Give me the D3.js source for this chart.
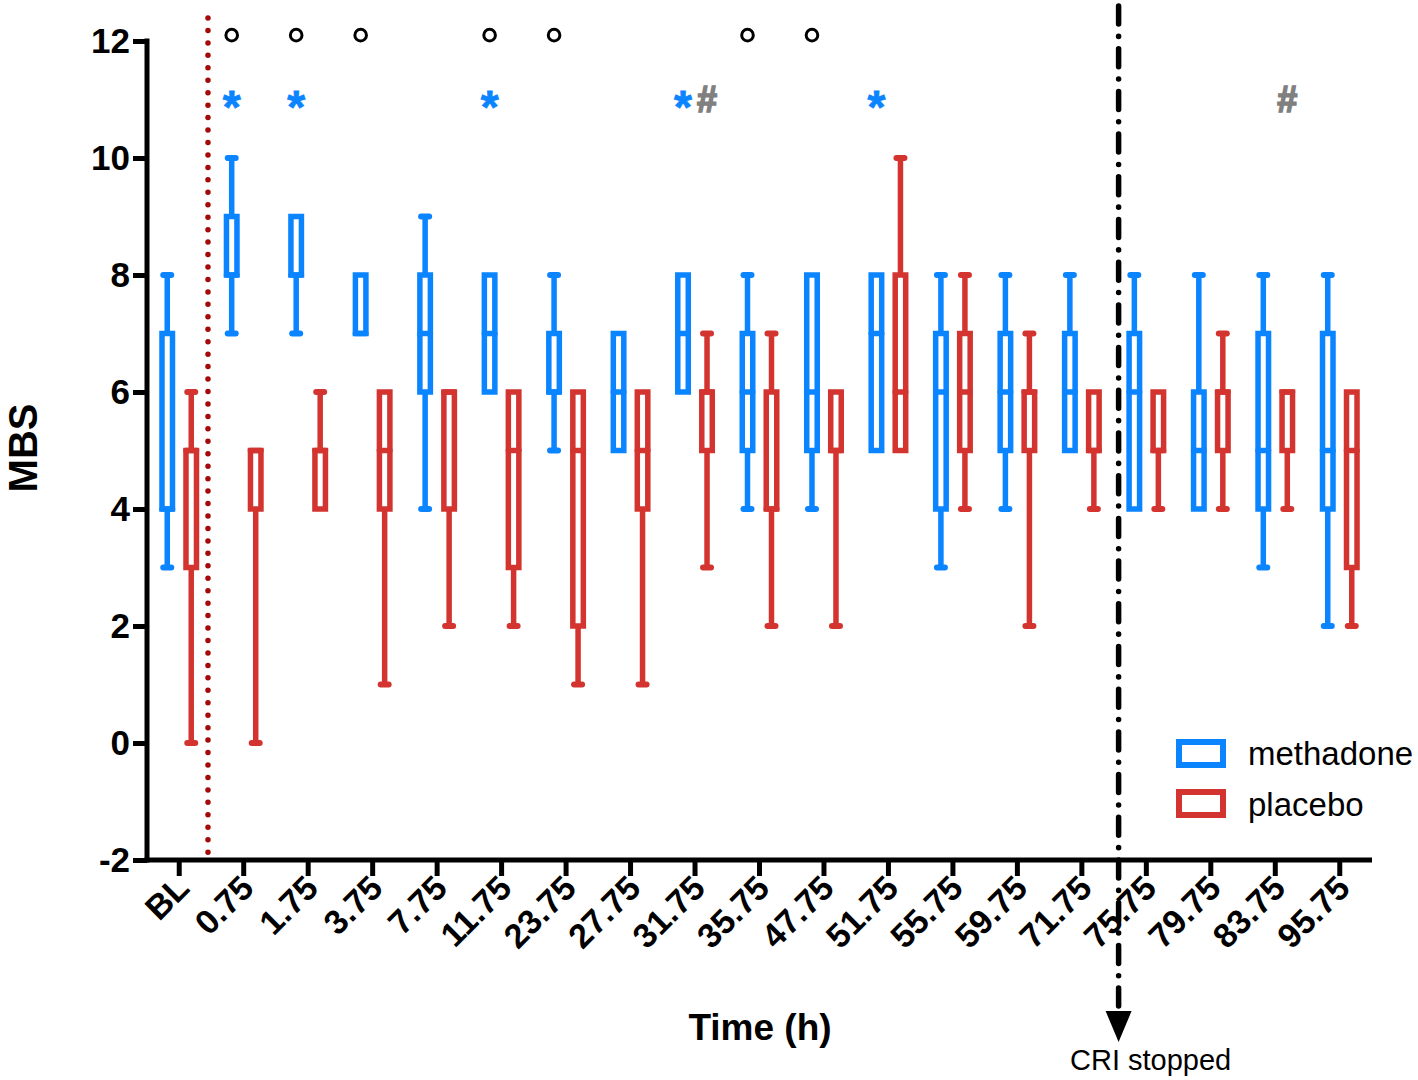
<!DOCTYPE html>
<html>
<head>
<meta charset="utf-8">
<script src="https://cdn.jsdelivr.net/npm/d3@7/dist/d3.min.js"></script>
<style>
  html, body { margin: 0; padding: 0; background: #fff; }
  svg { display: block; font-family: "Liberation Sans", Arial, Helvetica, sans-serif; }
</style>
</head>
<body>
<svg id="chart" width="1418" height="1080"></svg>
<script>
// ---------------- data ----------------
const categories = ["BL","0.75","1.75","3.75","7.75","11.75","23.75","27.75","31.75","35.75","47.75","51.75","55.75","59.75","71.75","75.75","79.75","83.75","95.75"];
const seriesNames = ["methadone","placebo"];
const yTicks = [-2,0,2,4,6,8,10,12];

// [min, q1, median, q3, max]
const methadone = [
  [3,4,4,7,8],[7,8,8,9,10],[7,8,8,9,9],[7,7,7,8,8],[4,6,7,8,9],
  [6,6,7,8,8],[5,6,6,7,8],[5,5,6,7,7],[6,6,7,8,8],[4,5,6,7,8],
  [4,5,6,8,8],[5,5,7,8,8],[3,4,6,7,8],[4,5,6,7,8],[5,5,6,7,8],
  [4,4,6,7,8],[4,4,5,6,8],[3,4,5,7,8],[2,4,5,7,8]
];
const placebo = [
  [0,3,5,5,6],[0,4,5,5,5],[4,4,5,5,6],[1,4,5,6,6],[2,4,6,6,6],
  [2,3,5,6,6],[1,2,5,6,6],[1,4,5,6,6],[3,5,6,6,7],[2,4,4,6,7],
  [2,5,5,6,6],[5,5,6,8,10],[4,5,6,7,8],[2,5,6,6,7],[4,5,5,6,6],
  [4,5,5,6,6],[4,5,6,6,7],[4,5,6,6,6],[2,3,5,6,6]
];
// significance marks
const circleMarks = ["0.75","1.75","3.75","11.75","23.75","35.75","47.75"];   // above methadone
const starMarks = ["0.75","1.75","11.75","31.75","51.75"];                      // above methadone
const hashMarks = ["31.75","83.75"];                                            // above placebo
const circleLevel = 12.1, starLevel = 11.0, hashLevel = 11.0;

// ---------------- layout ----------------
const colors = { methadone: "#0A84FF", placebo: "#D3342F" };
const svg = d3.select("#chart");
const plotLeft = 147, plotRight = 1372, plotTop = 41, plotBottom = 860;

const x = d3.scaleBand().domain(categories).range([plotLeft, plotRight]).padding(0);
const xs = d3.scaleBand().domain(seriesNames).range([-24, 24]).padding(0);
const y = d3.scaleLinear().domain([-2, 12]).range([plotBottom, plotTop]);

const boxW = 10.5, sw = 5.5, capHalf = 4;
const cx = (cat, s) => x(cat) + x.bandwidth() / 2 + xs(s) + xs.bandwidth() / 2;

// ---------------- reference lines ----------------
const xDot = x("0.75") - 3.5;
svg.append("line")
  .attr("x1", xDot).attr("x2", xDot).attr("y1", 18).attr("y2", plotBottom)
  .attr("stroke", "#A50A0A").attr("stroke-width", 5.5)
  .attr("stroke-linecap", "round").attr("stroke-dasharray", "0 12.45");

// ---------------- boxes ----------------
function drawSeries(name, data) {
  const g = svg.append("g").attr("class", name);
  const c = colors[name];
  data.forEach((d, i) => {
    const cat = categories[i];
    const xc = cx(cat, name);
    const [mn, q1, md, q3, mx] = d;
    if (mx > q3) {
      g.append("line").attr("x1", xc).attr("x2", xc).attr("y1", y(q3)).attr("y2", y(mx))
        .attr("stroke", c).attr("stroke-width", sw);
      g.append("line").attr("x1", xc - capHalf).attr("x2", xc + capHalf).attr("y1", y(mx)).attr("y2", y(mx))
        .attr("stroke", c).attr("stroke-width", 6).attr("stroke-linecap", "round");
    }
    if (mn < q1) {
      g.append("line").attr("x1", xc).attr("x2", xc).attr("y1", y(q1)).attr("y2", y(mn))
        .attr("stroke", c).attr("stroke-width", sw);
      g.append("line").attr("x1", xc - capHalf).attr("x2", xc + capHalf).attr("y1", y(mn)).attr("y2", y(mn))
        .attr("stroke", c).attr("stroke-width", 6).attr("stroke-linecap", "round");
    }
    g.append("rect").attr("x", xc - boxW / 2).attr("width", boxW)
      .attr("y", y(q3)).attr("height", Math.max(0.01, y(q1) - y(q3)))
      .attr("fill", "#fff").attr("stroke", c).attr("stroke-width", sw);
    g.append("line").attr("x1", xc - boxW / 2).attr("x2", xc + boxW / 2)
      .attr("y1", y(md)).attr("y2", y(md))
      .attr("stroke", c).attr("stroke-width", sw).attr("stroke-linecap", "round");
  });
}
drawSeries("methadone", methadone);
drawSeries("placebo", placebo);

// ---------------- axes ----------------
const yAxis = svg.append("g").attr("transform", `translate(${plotLeft},0)`)
  .call(d3.axisLeft(y).tickValues(yTicks).tickFormat(d => String(d))
    .tickSize(14).tickSizeOuter(0).tickPadding(3));
const xAxis = svg.append("g").attr("transform", `translate(0,${plotBottom})`)
  .call(d3.axisBottom(x).tickSize(16).tickSizeOuter(0));

[yAxis, xAxis].forEach(a => {
  a.select(".domain").attr("stroke", "#000").attr("stroke-width", 5);
  a.selectAll(".tick line").attr("stroke", "#000").attr("stroke-width", 5);
});
yAxis.select(".domain").attr("d", `M0,${plotTop - 2.5}V${plotBottom + 2.5}`);
xAxis.select(".domain").attr("d", `M${plotLeft - 2.5},0H${plotRight}`);

yAxis.selectAll(".tick text")
  .attr("font-size", 35).attr("font-weight", "bold").attr("fill", "#000")
  .attr("font-family", "'Liberation Sans', Arial, sans-serif");

xAxis.selectAll(".tick text")
  .attr("font-size", 34).attr("font-weight", "bold").attr("fill", "#000")
  .attr("font-family", "'Liberation Sans', Arial, sans-serif")
  .attr("text-anchor", "end")
  .attr("y", 0).attr("dy", 0)
  .attr("transform", "translate(12,30) rotate(-45)");

svg.append("text").attr("x", 760).attr("y", 1040).attr("text-anchor", "middle")
  .attr("font-size", 37).attr("font-weight", "bold").text("Time (h)");
svg.append("text").attr("transform", "translate(37,448) rotate(-90)").attr("text-anchor", "middle")
  .attr("font-size", 40).attr("font-weight", "bold").text("MBS");

// ---------------- CRI stopped line ----------------
const xCri = x("75.75") + 4.5;
svg.append("line")
  .attr("x1", xCri).attr("x2", xCri).attr("y1", 6).attr("y2", 1010)
  .attr("stroke", "#000").attr("stroke-width", 5.5)
  .attr("stroke-linecap", "round").attr("stroke-dasharray", "18 12.3 0.1 12.3");
svg.append("path")
  .attr("d", `M${xCri - 13},1011 L${xCri + 13},1011 L${xCri},1042 Z`).attr("fill", "#000");
svg.append("text").attr("x", xCri + 32).attr("y", 1070).attr("text-anchor", "middle")
  .attr("font-size", 29).attr("fill", "#000").text("CRI stopped");

// ---------------- significance marks ----------------
svg.append("g").selectAll("circle").data(circleMarks).join("circle")
  .attr("cx", d => cx(d, "methadone")).attr("cy", y(circleLevel))
  .attr("r", 5.8).attr("fill", "none").attr("stroke", "#000").attr("stroke-width", 3);
svg.append("g").selectAll("text").data(starMarks).join("text")
  .attr("x", d => cx(d, "methadone")).attr("y", y(starLevel) + 23)
  .attr("text-anchor", "middle").attr("font-size", 46).attr("font-weight", "bold")
  .attr("fill", colors.methadone).attr("stroke", colors.methadone).attr("stroke-width", 0.8)
  .text("*");
svg.append("g").selectAll("text").data(hashMarks).join("text")
  .attr("x", d => cx(d, "placebo")).attr("y", y(hashLevel) + 12)
  .attr("text-anchor", "middle").attr("font-size", 36).attr("font-weight", "bold")
  .attr("fill", "#808080").attr("stroke", "#808080").attr("stroke-width", 1.6)
  .text("#");

// ---------------- legend ----------------
const legend = svg.append("g");
seriesNames.forEach((s, i) => {
  const ly = 742 + i * 50;
  legend.append("rect").attr("x", 1179).attr("y", ly).attr("width", 44).attr("height", 23)
    .attr("fill", "#fff").attr("stroke", colors[s]).attr("stroke-width", 6);
  legend.append("text").attr("x", 1248).attr("y", ly + 23 + (i ? 1 : 0))
    .attr("font-size", 33).attr("fill", "#000").text(s);
});
</script>
</body>
</html>
